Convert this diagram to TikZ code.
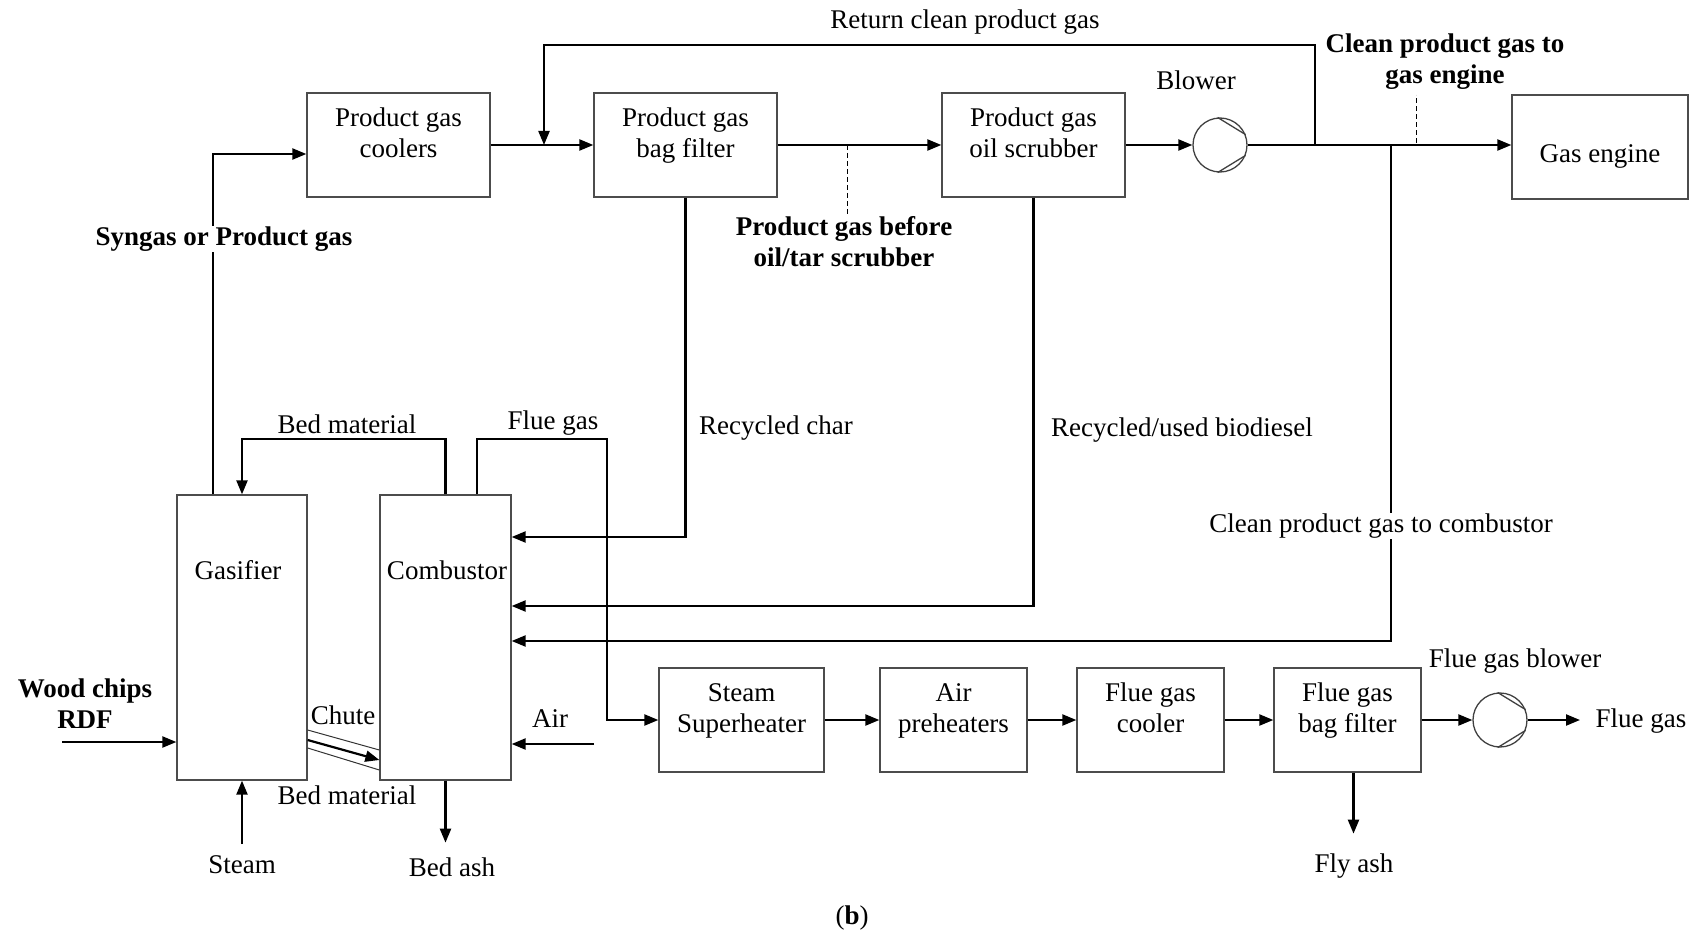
\documentclass[tikz,border=0pt]{standalone}
\usepackage{fontspec}
\setmainfont{Liberation Serif}
\usetikzlibrary{arrows.meta,calc}
\newcommand\dfont{\fontsize{27}{31}\selectfont}
\begin{document}
\begin{tikzpicture}[x=1pt,y=-1pt,
  box/.style={draw=black!70, line width=1.3pt, inner sep=0pt},
  flow/.style={line width=2.2pt, -{Triangle[length=14pt,width=11pt]}},
  pipe/.style={line width=2.2pt},
  thinl/.style={line width=1pt, black!80},
  dashl/.style={line width=1pt, dash pattern=on 5pt off 3pt},
  lbl/.style={font=\dfont, align=center, inner sep=1pt},
  blbl/.style={font=\dfont\bfseries, align=center, inner sep=1pt},
  fan/.style={draw=black!75, line width=1.3pt, circle, minimum size=54pt, inner sep=0pt}]
\useasboundingbox (0,0) rectangle (1697,936);

% top row
\node[box, minimum width=183pt, minimum height=104pt] (coolers) at (398.5,145) {};
\node[box, minimum width=183pt, minimum height=104pt] (bagfilter) at (685.5,145) {};
\node[box, minimum width=183pt, minimum height=104pt] (scrubber) at (1033.5,145) {};
\node[box, minimum width=176pt, minimum height=104pt] (engine) at (1600,147) {};
\node[lbl] (coolers-t) at ([yshift=9pt]coolers.center) {Product gas\strut\\coolers\strut};
\node[lbl] (bagfilter-t) at ([yshift=9pt]bagfilter.center) {Product gas\strut\\bag filter\strut};
\node[lbl] (scrubber-t) at ([yshift=9pt]scrubber.center) {Product gas\strut\\oil scrubber\strut};
\node[lbl] (engine-t) at ([yshift=-9pt]engine.center) {Gas engine};
\node[fan] (blower) at (1220,145) {};
\draw[line width=1.3pt, black!75] (blower.95) -- (blower.22) (blower.-95) -- (blower.-22);

% reactors
\node[box, minimum width=130pt, minimum height=285pt] (gasifier) at (242,637.5) {};
\node[box, minimum width=131pt, minimum height=285pt] (combustor) at (445.5,637.5) {};
\node[lbl] (tgas) at (238,570) {Gasifier};
\node[lbl] (tcomb) at (447,570) {Combustor};

% bottom row
\node[box, minimum width=165pt, minimum height=104pt] (superheater) at (741.5,720) {};
\node[box, minimum width=147pt, minimum height=104pt] (airpre) at (953.5,720) {};
\node[box, minimum width=147pt, minimum height=104pt] (fgcooler) at (1150.5,720) {};
\node[box, minimum width=147pt, minimum height=104pt] (fgbag) at (1347.5,720) {};
\node[lbl] (superheater-t) at ([yshift=9pt]superheater.center) {Steam\strut\\Superheater\strut};
\node[lbl] (airpre-t) at ([yshift=9pt]airpre.center) {Air\strut\\preheaters\strut};
\node[lbl] (fgcooler-t) at ([yshift=9pt]fgcooler.center) {Flue gas\strut\\cooler\strut};
\node[lbl] (fgbag-t) at ([yshift=9pt]fgbag.center) {Flue gas\strut\\bag filter\strut};
\node[fan] (fgblower) at (1500,720) {};
\draw[line width=1.3pt, black!75] (fgblower.95) -- (fgblower.22) (fgblower.-95) -- (fgblower.-22);

% coordinates
\coordinate (j1) at (1315,145);
\coordinate (j2) at (1391,145);
\coordinate (ret) at (544,145);
\coordinate (fgx) at (607,720);
\coordinate (airin) at (594,744);
\coordinate (woodin) at (62,742);
\coordinate (steamin) at (242,844);
\coordinate (fgout) at (1580,720);

% top flows
\draw[flow] ([xshift=-29pt]gasifier.north) |- ([yshift=-9pt]coolers.west);
\draw[flow] (coolers.east) -- (bagfilter.west);
\draw[flow] (bagfilter.east) -- (scrubber.west);
\draw[flow] (scrubber.east) -- (blower.west);
\draw[flow] (blower.east) -- (blower.east -| engine.west);
\draw[flow] (j1) -- ++(0,-100) -| (ret);
\draw[flow] (j2) |- ([yshift=-3.5pt]combustor.east);
\draw[flow] (bagfilter.south) |- ([yshift=100.5pt]combustor.east);
\draw[flow] (scrubber.south) |- ([yshift=31.5pt]combustor.east);

% dashed markers
\draw[dashl] (847,145) -- (847,215);
\draw[dashl] (1416,143) -- (1416,95);

% reactor loops
\draw[flow] (combustor.north) -- ++(0,-55) -| (gasifier.north);
\draw[flow] ([xshift=31.5pt]combustor.north) -- ++(0,-55) -| (fgx) -- (superheater.west);
\draw[flow] (airin) -- (airin -| combustor.east);
\draw[flow] (woodin) -- (woodin -| gasifier.west);
\draw[flow] (steamin) -- (gasifier.south);
\draw[flow] (combustor.south) -- ++(0,62);

% chute
\draw[thinl] ([yshift=-92.5pt]gasifier.east) -- ([yshift=-112.5pt]combustor.west);
\draw[thinl] ([yshift=-110.5pt]gasifier.east) -- ([yshift=-132.5pt]combustor.west);
\draw[flow] ([yshift=-102.5pt]gasifier.east) -- ([yshift=-122.5pt]combustor.west);

% bottom row flows
\draw[flow] (superheater.east) -- (airpre.west);
\draw[flow] (airpre.east) -- (fgcooler.west);
\draw[flow] (fgcooler.east) -- (fgbag.west);
\draw[flow] (fgbag.east) -- (fgblower.west);
\draw[flow] (fgblower.east) -- (fgout);
\draw[flow] ([xshift=6pt]fgbag.south) -- ++(0,61);

% labels
\node[lbl] (tret) at (965,22) {Return clean product gas};
\node[blbl] (tcge) at (1445,62) {Clean product gas to\\gas engine};
\node[lbl] (tblow) at (1196,80) {Blower};
\node[blbl, fill=white] (tsyn) at (224,239) {Syngas or Product gas};
\node[blbl] (tpgb) at (844,242) {Product gas before\\oil/tar scrubber};
\node[lbl] (tchar) at (776,428) {Recycled char};
\node[lbl] (tbio) at (1182,430) {Recycled/used biodiesel};
\node[lbl, fill=white] (tcgc) at (1381,526) {Clean product gas to combustor};
\node[lbl] (tbed1) at (347,424) {Bed material};
\node[lbl] (tflue1) at (553,423) {Flue gas};
\node[blbl] (twood) at (85,704) {Wood chips\\RDF};
\node[lbl] (tchute) at (343,715) {Chute};
\node[lbl] (tair) at (550,719) {Air};
\node[lbl] (tbed2) at (347,795) {Bed material};
\node[lbl] (tsteam) at (242,865) {Steam};
\node[lbl] (tash) at (452,867) {Bed ash};
\node[lbl] (tfgb) at (1515,661) {Flue gas blower};
\node[lbl] (tflue2) at (1641,721) {Flue gas};
\node[lbl] (tfly) at (1354,866) {Fly ash};
\node[lbl] (tb) at (852,918) {(\textbf{b})};
\end{tikzpicture}
\end{document}
